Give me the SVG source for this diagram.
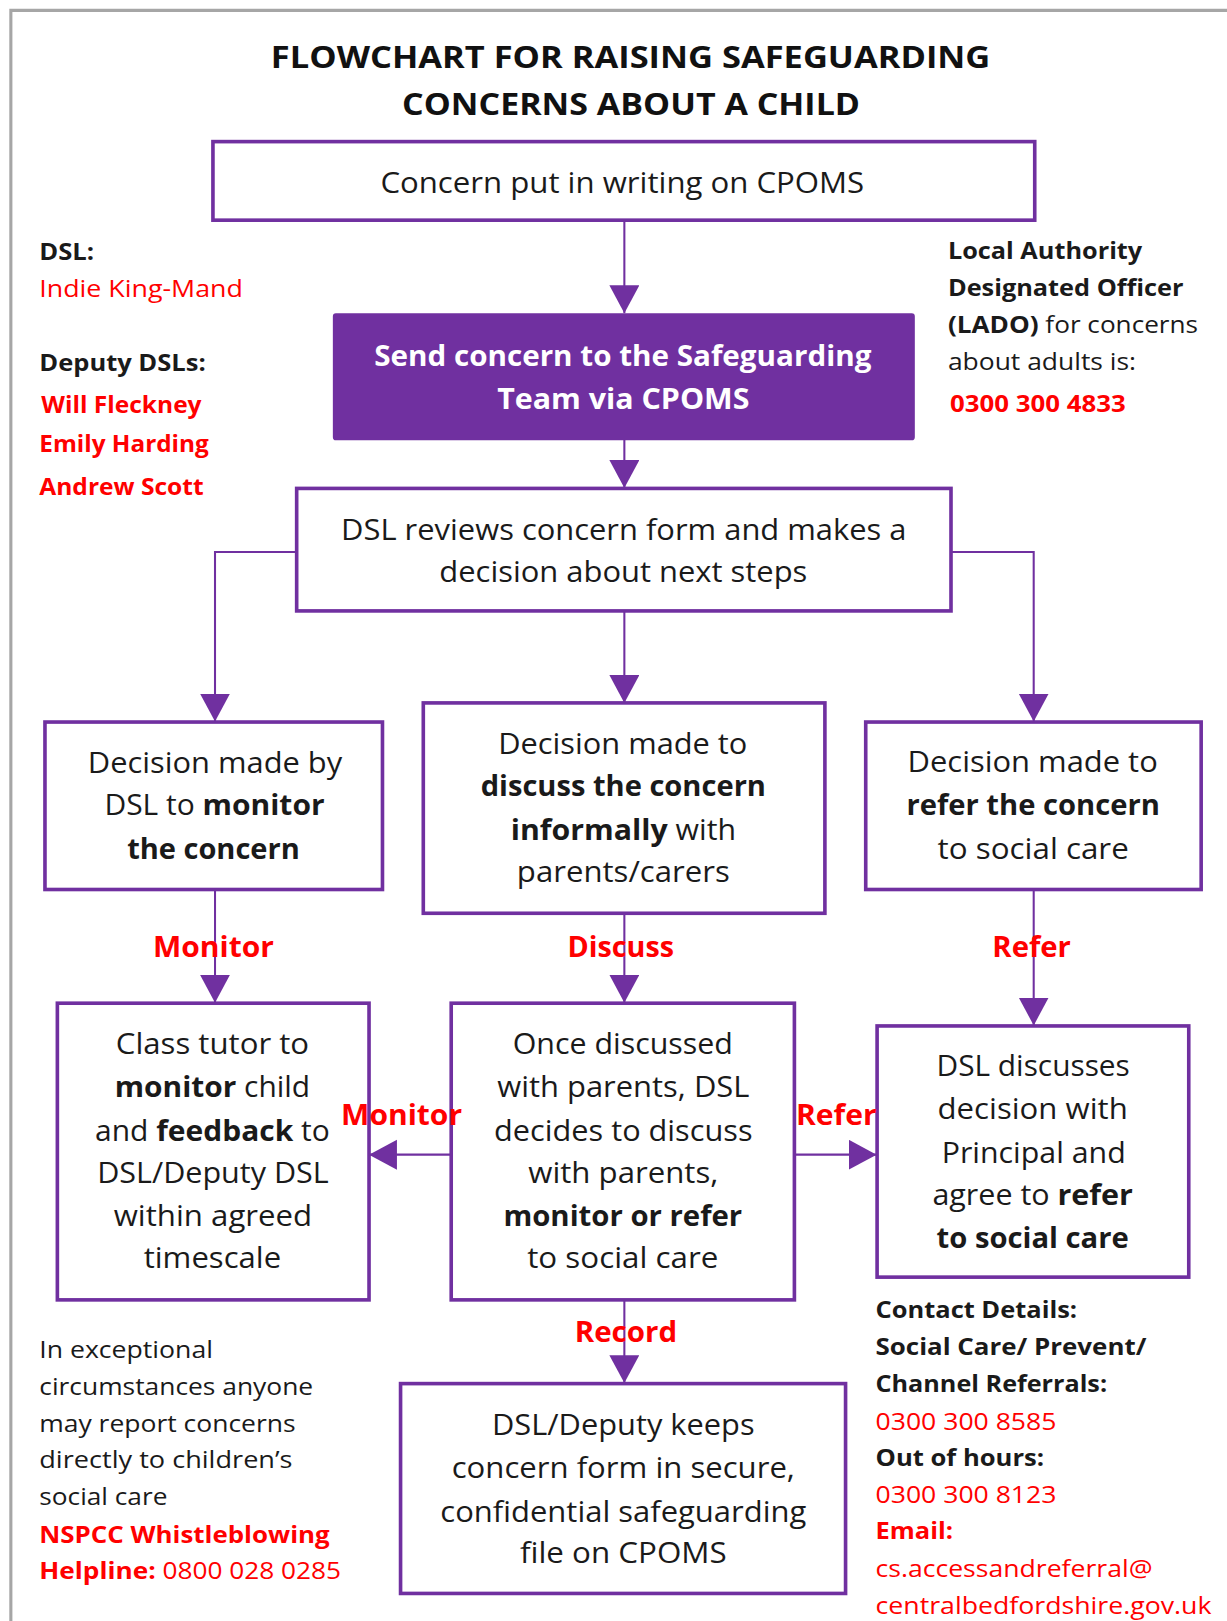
<svg xmlns="http://www.w3.org/2000/svg" width="1227" height="1621" viewBox="0 0 1227 1621">
<defs>
<style>
.box{fill:#fff;stroke:#7030A0;stroke-width:3.5}
.fill{fill:#7030A0;stroke:#7030A0;stroke-width:2}
.t{font-family:"Open Sans","Liberation Sans",sans-serif;fill:#1a1a1a;font-size:28px;text-anchor:middle}
.w{fill:#fff;font-weight:bold;font-size:27px}
.b{font-weight:bold}
.lbl{font-family:"Open Sans","Liberation Sans",sans-serif;fill:#FF0000;font-weight:bold;font-size:27px;text-anchor:middle}
.conn{stroke:#7030A0;stroke-width:2;fill:none}
.s{font-family:"Open Sans","Liberation Sans",sans-serif;fill:#1a1a1a;font-size:23px}
.r{fill:#FF0000}
.title{font-family:"Open Sans","Liberation Sans",sans-serif;fill:#111;font-weight:bold;font-size:30px;text-anchor:middle}
</style>
<marker id="ah" markerUnits="userSpaceOnUse" markerWidth="28" markerHeight="30" refX="27" refY="14.5" orient="auto" viewBox="0 0 28 30">
<path d="M0,0 L27,14.5 L0,29 z" fill="#7030A0"/>
</marker>
</defs>
<rect width="1227" height="1621" fill="#fff"/>
<g transform="scale(1.0337)">
<path d="M10.5,1570 V10 H1190" fill="none" stroke="#A6A6A6" stroke-width="3"/>

<g id="title">
<text class="title" x="610" y="66" textLength="696" lengthAdjust="spacingAndGlyphs">FLOWCHART FOR RAISING SAFEGUARDING</text>
<text class="title" x="610.5" y="111" textLength="443" lengthAdjust="spacingAndGlyphs">CONCERNS ABOUT A CHILD</text>
</g>

<g id="connectors">
<path class="conn" d="M604,213 V303" marker-end="url(#ah)"/>
<path class="conn" d="M604,425 V472" marker-end="url(#ah)"/>
<path class="conn" d="M287,534 H208 V698" marker-end="url(#ah)"/>
<path class="conn" d="M920,534 H1000 V698" marker-end="url(#ah)"/>
<path class="conn" d="M604,591 V680" marker-end="url(#ah)"/>
<path class="conn" d="M208,861 V970" marker-end="url(#ah)"/>
<path class="conn" d="M604,883 V970" marker-end="url(#ah)"/>
<path class="conn" d="M1000,861 V992" marker-end="url(#ah)"/>
<path class="conn" d="M436,1117 H357" marker-end="url(#ah)"/>
<path class="conn" d="M769,1117 H848" marker-end="url(#ah)"/>
<path class="conn" d="M604,1258 V1338" marker-end="url(#ah)"/>
</g>

<g id="n1">
<rect class="box" x="206" y="137" width="795" height="76"/>
<text class="t" x="602" y="187" textLength="468" lengthAdjust="spacingAndGlyphs">Concern put in writing on CPOMS</text>
</g>

<g id="n2">
<rect class="fill" x="323" y="304" width="561" height="121" rx="2"/>
<text class="t w" x="602.5" y="354" textLength="481" lengthAdjust="spacingAndGlyphs">Send concern to the Safeguarding</text>
<text class="t w" x="603" y="396" textLength="244" lengthAdjust="spacingAndGlyphs">Team via CPOMS</text>
</g>

<g id="n3">
<rect class="box" x="287" y="472.5" width="633" height="118.5"/>
<text class="t" x="603.5" y="522" textLength="547" lengthAdjust="spacingAndGlyphs">DSL reviews concern form and makes a</text>
<text class="t" x="603" y="563" textLength="356" lengthAdjust="spacingAndGlyphs">decision about next steps</text>
</g>

<g id="n4">
<rect class="box" x="43.5" y="698.5" width="326.5" height="162"/>
<text class="t" x="208" y="747.5" textLength="246" lengthAdjust="spacingAndGlyphs">Decision made by</text>
<text class="t" x="207.5" y="788.5" textLength="213" lengthAdjust="spacingAndGlyphs">DSL to <tspan class="b">monitor</tspan></text>
<text class="t b" x="206.5" y="831" textLength="167" lengthAdjust="spacingAndGlyphs">the concern</text>
</g>

<g id="n5">
<rect class="box" x="409.5" y="680" width="388.5" height="203.5"/>
<text class="t" x="602.5" y="729" textLength="241" lengthAdjust="spacingAndGlyphs">Decision made to</text>
<text class="t b" x="603" y="770" textLength="276" lengthAdjust="spacingAndGlyphs">discuss the concern</text>
<text class="t" x="603" y="812.5" textLength="218" lengthAdjust="spacingAndGlyphs"><tspan class="b">informally</tspan> with</text>
<text class="t" x="603" y="853" textLength="206" lengthAdjust="spacingAndGlyphs">parents/carers</text>
</g>

<g id="n6">
<rect class="box" x="837.5" y="698.5" width="324.5" height="162"/>
<text class="t" x="999" y="746.5" textLength="242" lengthAdjust="spacingAndGlyphs">Decision made to</text>
<text class="t b" x="999.5" y="788.5" textLength="245" lengthAdjust="spacingAndGlyphs">refer the concern</text>
<text class="t" x="999.5" y="831" textLength="185" lengthAdjust="spacingAndGlyphs">to social care</text>
</g>

<g id="n7">
<rect class="box" x="55.5" y="970.5" width="301.5" height="287"/>
<text class="t" x="205.5" y="1019.5" textLength="187" lengthAdjust="spacingAndGlyphs">Class tutor to</text>
<text class="t" x="205.5" y="1061.5" textLength="189" lengthAdjust="spacingAndGlyphs"><tspan class="b">monitor</tspan> child</text>
<text class="t" x="205.5" y="1103.5" textLength="227" lengthAdjust="spacingAndGlyphs">and <tspan class="b">feedback</tspan> to</text>
<text class="t" x="206" y="1144" textLength="224" lengthAdjust="spacingAndGlyphs">DSL/Deputy DSL</text>
<text class="t" x="206" y="1186" textLength="192" lengthAdjust="spacingAndGlyphs">within agreed</text>
<text class="t" x="205.5" y="1226.5" textLength="133" lengthAdjust="spacingAndGlyphs">timescale</text>
</g>

<g id="n8">
<rect class="box" x="436.5" y="970.5" width="332" height="287"/>
<text class="t" x="602.5" y="1019.5" textLength="213" lengthAdjust="spacingAndGlyphs">Once discussed</text>
<text class="t" x="603" y="1061.5" textLength="244" lengthAdjust="spacingAndGlyphs">with parents, DSL</text>
<text class="t" x="603" y="1103.5" textLength="250" lengthAdjust="spacingAndGlyphs">decides to discuss</text>
<text class="t" x="603" y="1144" textLength="184" lengthAdjust="spacingAndGlyphs">with parents,</text>
<text class="t b" x="602.5" y="1186" textLength="231" lengthAdjust="spacingAndGlyphs">monitor or refer</text>
<text class="t" x="602.5" y="1226.5" textLength="185" lengthAdjust="spacingAndGlyphs">to social care</text>
</g>

<g id="n9">
<rect class="box" x="848.5" y="992.5" width="301.5" height="243"/>
<text class="t" x="999.5" y="1041" textLength="187" lengthAdjust="spacingAndGlyphs">DSL discusses</text>
<text class="t" x="999" y="1083" textLength="184" lengthAdjust="spacingAndGlyphs">decision with</text>
<text class="t" x="1000" y="1125.5" textLength="178" lengthAdjust="spacingAndGlyphs">Principal and</text>
<text class="t" x="999" y="1166" textLength="194" lengthAdjust="spacingAndGlyphs">agree to <tspan class="b">refer</tspan></text>
<text class="t b" x="999" y="1207.5" textLength="186" lengthAdjust="spacingAndGlyphs">to social care</text>
</g>

<g id="n10">
<rect class="box" x="387.5" y="1338.5" width="430.5" height="203"/>
<text class="t" x="603" y="1388" textLength="254" lengthAdjust="spacingAndGlyphs">DSL/Deputy keeps</text>
<text class="t" x="603" y="1430" textLength="332" lengthAdjust="spacingAndGlyphs">concern form in secure,</text>
<text class="t" x="603" y="1472" textLength="354" lengthAdjust="spacingAndGlyphs">confidential safeguarding</text>
<text class="t" x="603" y="1512.5" textLength="200" lengthAdjust="spacingAndGlyphs">file on CPOMS</text>
</g>

<g id="connector-labels">
<text class="lbl" x="206.5" y="926" textLength="117" lengthAdjust="spacingAndGlyphs">Monitor</text>
<text class="lbl" x="600.5" y="926" textLength="103" lengthAdjust="spacingAndGlyphs">Discuss</text>
<text class="lbl" x="998" y="926" textLength="76" lengthAdjust="spacingAndGlyphs">Refer</text>
<text class="lbl" x="388.5" y="1088" textLength="117" lengthAdjust="spacingAndGlyphs">Monitor</text>
<text class="lbl" x="809" y="1088" textLength="78" lengthAdjust="spacingAndGlyphs">Refer</text>
<text class="lbl" x="605.5" y="1298" textLength="99" lengthAdjust="spacingAndGlyphs">Record</text>
</g>

<g id="dsl-info">
<text class="s b" x="38" y="251.5" textLength="53" lengthAdjust="spacingAndGlyphs">DSL:</text>
<text class="s r" x="38" y="287" textLength="197" lengthAdjust="spacingAndGlyphs">Indie King-Mand</text>
<text class="s b" x="38" y="358.5" textLength="161" lengthAdjust="spacingAndGlyphs">Deputy DSLs:</text>
<text class="s b r" x="40" y="400" font-size="25" textLength="155" lengthAdjust="spacingAndGlyphs">Will Fleckney</text>
<text class="s b r" x="38" y="437" font-size="25" textLength="164" lengthAdjust="spacingAndGlyphs">Emily Harding</text>
<text class="s b r" x="38" y="479" font-size="25" textLength="159" lengthAdjust="spacingAndGlyphs">Andrew Scott</text>
</g>

<g id="lado-info">
<text class="s b" x="917" y="251" textLength="188" lengthAdjust="spacingAndGlyphs">Local Authority</text>
<text class="s b" x="917" y="286.5" textLength="228" lengthAdjust="spacingAndGlyphs">Designated Officer</text>
<text class="s" x="917" y="322" textLength="242" lengthAdjust="spacingAndGlyphs"><tspan class="b">(LADO)</tspan> for concerns</text>
<text class="s" x="917" y="357.5" textLength="182" lengthAdjust="spacingAndGlyphs">about adults is:</text>
<text class="s b r" x="919" y="398.5" font-size="25" textLength="170" lengthAdjust="spacingAndGlyphs">0300 300 4833</text>
</g>

<g id="exceptional-info">
<text class="s" x="38" y="1314" textLength="168" lengthAdjust="spacingAndGlyphs">In exceptional</text>
<text class="s" x="38" y="1349.5" textLength="265" lengthAdjust="spacingAndGlyphs">circumstances anyone</text>
<text class="s" x="38" y="1385" textLength="248" lengthAdjust="spacingAndGlyphs">may report concerns</text>
<text class="s" x="38" y="1420.5" textLength="245" lengthAdjust="spacingAndGlyphs">directly to children’s</text>
<text class="s" x="38" y="1456" textLength="124" lengthAdjust="spacingAndGlyphs">social care</text>
<text class="s b r" x="38" y="1492.5" textLength="281" lengthAdjust="spacingAndGlyphs">NSPCC Whistleblowing</text>
<text class="s r" x="38" y="1528" textLength="292" lengthAdjust="spacingAndGlyphs"><tspan class="b">Helpline:</tspan> 0800 028 0285</text>
</g>

<g id="contact-info">
<text class="s b" x="847" y="1275.5" textLength="195" lengthAdjust="spacingAndGlyphs">Contact Details:</text>
<text class="s b" x="847" y="1311" textLength="262" lengthAdjust="spacingAndGlyphs">Social Care/ Prevent/</text>
<text class="s b" x="847" y="1346.5" textLength="224" lengthAdjust="spacingAndGlyphs">Channel Referrals:</text>
<text class="s r" x="847" y="1383" textLength="175" lengthAdjust="spacingAndGlyphs">0300 300 8585</text>
<text class="s b" x="847" y="1418" textLength="163" lengthAdjust="spacingAndGlyphs">Out of hours:</text>
<text class="s r" x="847" y="1454" textLength="175" lengthAdjust="spacingAndGlyphs">0300 300 8123</text>
<text class="s b r" x="847" y="1489" textLength="75" lengthAdjust="spacingAndGlyphs">Email:</text>
<text class="s r" x="847" y="1525.5" textLength="268" lengthAdjust="spacingAndGlyphs">cs.accessandreferral@</text>
<text class="s r" x="847" y="1561" textLength="325" lengthAdjust="spacingAndGlyphs">centralbedfordshire.gov.uk</text>
</g>
</g>
</svg>
